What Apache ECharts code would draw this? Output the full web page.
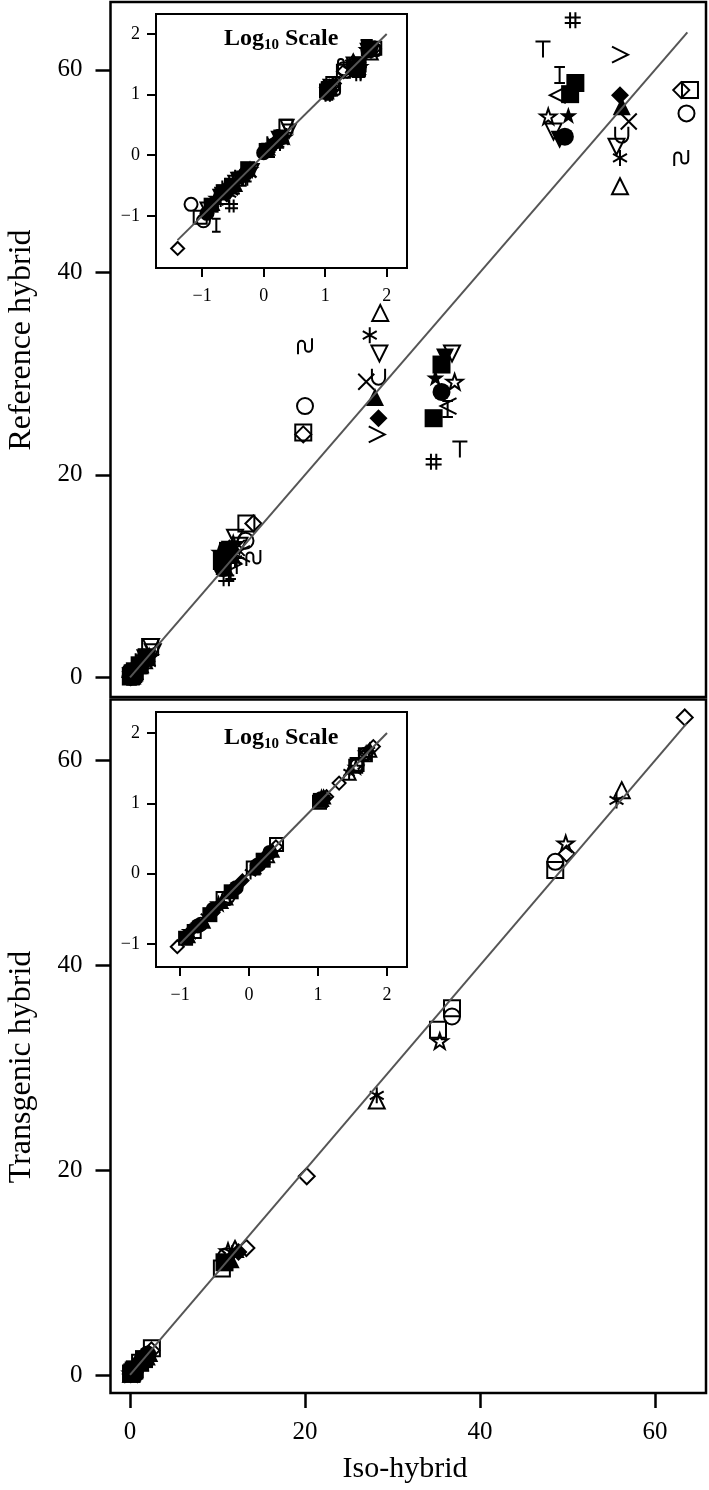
<!DOCTYPE html>
<html>
<head>
<meta charset="utf-8">
<script src="https://cdn.jsdelivr.net/npm/echarts@6/dist/echarts.min.js"></script>
<style>
  html, body { margin: 0; padding: 0; background: #fff; }
  #chart { width: 709px; height: 1490px; }
</style>
</head>
<body>
<div id="chart"></div>
<script>
// tick labels
const mainTicks = [0, 20, 40, 60];
const logTicks = [-1, 0, 1, 2];

// 1:1 reference lines, [from, to]
const lineTop = [0, 63.7];
const lineBottom = [0, 63.6];
const logLineTop = [-1.4, 2.0];
const logLineBottom = [-1.0, 2.0];

// top panel: [iso-hybrid, reference hybrid]
const openTri   = [[0.22, 0.2], [0.45, 0.5], [1.6, 1.7], [11.5, 12.3], [28.6, 36.0], [56.0, 48.5]];
const asterisk  = [[0.18, 0.17], [0.5, 0.46], [1.3, 1.4], [12.0, 11.6], [27.4, 33.8], [56.0, 51.3]];
const greater   = [[0.2, 0.23], [0.4, 0.38], [1.8, 1.6], [11.8, 11.2], [28.2, 24.0], [56.0, 61.5]];
const fDiamond  = [[0.25, 0.22], [0.55, 0.5], [1.5, 1.5], [11.2, 12.0], [28.4, 25.6], [56.0, 57.5]];
const fTri      = [[0.15, 0.16], [0.35, 0.33], [1.2, 1.3], [10.8, 11.0], [28.0, 27.7], [56.2, 56.4]];
const cross     = [[0.3, 0.28], [0.6, 0.55], [2.0, 1.9], [12.2, 12.8], [27.0, 29.2], [57.0, 54.9]];
const cup       = [[0.26, 0.3], [0.42, 0.45], [1.4, 1.6], [11.0, 11.8], [28.4, 29.7], [56.2, 53.6]];
const downTri   = [[0.12, 0.13], [0.38, 0.4], [2.4, 3.0], [12.5, 13.0], [28.5, 32.0], [55.6, 52.4]];
const hash      = [[0.3, 0.145], [0.5, 0.4], [1.7, 1.5], [11.0, 9.8], [34.7, 21.3], [50.6, 64.9]];
const tee       = [[0.2, 0.18], [0.45, 0.42], [1.5, 1.4], [12.2, 11.0], [37.7, 22.5], [47.2, 62.0]];
const ibeam     = [[0.17, 0.07], [0.35, 0.3], [1.3, 1.2], [11.5, 10.5], [36.3, 26.5], [49.1, 59.5]];
const fSquare   = [[0.22, 0.25], [0.55, 0.6], [1.9, 2.0], [10.5, 11.5], [35.6, 30.9], [50.9, 58.7]];
const fSquare2  = [[0.14, 0.15], [0.3, 0.32], [1.1, 1.2], [11.2, 12.5], [34.7, 25.6], [50.3, 57.6]];
const less      = [[0.28, 0.26], [0.48, 0.52], [1.6, 1.8], [12.8, 12.2], [36.4, 26.8], [48.9, 57.5]];
const fStar     = [[0.16, 0.2], [0.32, 0.36], [1.2, 1.5], [10.2, 12.4], [34.9, 29.6], [50.1, 55.5]];
const openStar  = [[0.24, 0.3], [0.6, 0.58], [2.2, 2.0], [11.8, 13.2], [37.1, 29.2], [47.8, 55.4]];
const downTri2  = [[0.34, 0.36], [0.65, 0.56], [2.6, 2.5], [12.0, 13.8], [36.8, 32.0], [48.4, 53.9]];
const fDownTri  = [[0.19, 0.21], [0.44, 0.4], [1.7, 1.9], [11.4, 12.6], [36.0, 31.6], [49.1, 53.1]];
const fCircle   = [[0.12, 0.11], [0.28, 0.3], [1.0, 1.1], [10.6, 10.8], [35.6, 28.2], [49.7, 53.4]];
const oDiamond  = [[0.04, 0.029], [0.25, 0.24], [1.5, 1.6], [14.1, 15.2], [19.8, 24.0], [63.0, 58.0]];
const oSquare   = [[0.093, 0.095], [0.4, 0.4], [2.3, 3.0], [13.3, 15.2], [19.8, 24.2], [64.0, 58.0]];
const oCircle   = [[0.066, 0.155], [0.105, 0.083], [1.1, 1.2], [13.2, 13.5], [20.0, 26.8], [63.6, 55.7]];
const tilde     = [[0.2, 0.22], [0.5, 0.5], [1.9, 2.2], [14.1, 11.8], [20.0, 32.7], [63.0, 51.3]];

// bottom panel: [iso-hybrid, transgenic hybrid]
const bDiamond  = [[0.091, 0.091], [0.3, 0.28], [2.45, 2.4], [13.3, 12.4], [20.2, 19.4], [49.9, 50.9], [63.4, 64.2]];
const bSquare   = [[0.16, 0.15], [0.42, 0.44], [1.15, 1.2], [2.5, 2.6], [10.5, 10.4], [35.2, 33.7], [36.8, 35.8], [48.6, 49.3]];
const bCircle   = [[0.2, 0.19], [0.5, 0.47], [1.4, 1.35], [11.0, 11.6], [36.8, 35.0], [48.6, 50.1]];
const bStar     = [[0.14, 0.15], [0.36, 0.37], [1.7, 1.75], [11.2, 12.1], [35.4, 32.6], [49.8, 51.9]];
const bTri      = [[0.13, 0.13], [0.46, 0.45], [1.85, 1.8], [12.0, 12.3], [28.2, 26.8], [56.2, 57.1]];
const bAsterisk = [[0.24, 0.24], [0.56, 0.57], [1.05, 1.02], [11.7, 11.9], [28.2, 27.3], [55.6, 56.1]];
const bFCircle  = [[0.18, 0.18], [0.3, 0.31], [0.65, 0.63], [1.3, 1.3], [2.0, 2.0]];
const bFSquare  = [[0.12, 0.12], [0.27, 0.26], [0.55, 0.55], [1.6, 1.55], [10.8, 11.0]];
const bFTri     = [[0.22, 0.21], [0.4, 0.4], [1.2, 1.25], [2.2, 2.15], [11.5, 11.3]];
const bFDiamond = [[0.15, 0.16], [0.34, 0.33], [0.8, 0.8], [1.9, 1.95], [12.4, 12.0]];

const SYMBOLS = {
  circle: 'circle', rect: 'rect', diamond: 'diamond', triangle: 'triangle',
  star: 'path://M10 1L12.2 7.6L19.1 7.6L13.5 11.8L15.6 18.5L10 14.4L4.4 18.5L6.5 11.8L0.9 7.6L7.8 7.6Z',
  asterisk: 'path://M10 0V20M1.3 5L18.7 15M1.3 15L18.7 5',
  cross: 'path://M2 2L18 18M18 2L2 18',
  hash: 'path://M7 1V19M13 1V19M1 7H19M1 13H19',
  tee: 'path://M2 2H18M10 2V19',
  ibeam: 'path://M4 1H16M10 1V19M4 19H16',
  gt: 'path://M3 3L17 10L3 17',
  lt: 'path://M17 3L3 10L17 17',
  tilde: 'path://M3 18V8A3.5 3.5 0 0 1 10 8V12A3.5 3.5 0 0 0 17 12V2',
  cup: 'path://M3 1V11A7 7 0 0 0 17 11V1'
};

// [data, symbol, filled, rotate]
const topSpecs = [
  [openTri, 'triangle', false, 0], [asterisk, 'asterisk', false, 0], [greater, 'gt', false, 0],
  [fDiamond, 'diamond', true, 0], [fTri, 'triangle', true, 0], [cross, 'cross', false, 0],
  [cup, 'cup', false, 0], [downTri, 'triangle', false, 180], [hash, 'hash', false, 0],
  [tee, 'tee', false, 0], [ibeam, 'ibeam', false, 0], [fSquare, 'rect', true, 0],
  [fSquare2, 'rect', true, 0], [less, 'lt', false, 0], [fStar, 'star', true, 0],
  [openStar, 'star', false, 0], [downTri2, 'triangle', false, 180], [fDownTri, 'triangle', true, 180],
  [fCircle, 'circle', true, 0], [oDiamond, 'diamond', false, 0], [oSquare, 'rect', false, 0],
  [oCircle, 'circle', false, 0], [tilde, 'tilde', false, 0]
];
const bottomSpecs = [
  [bFCircle, 'circle', true, 0], [bFSquare, 'rect', true, 0], [bFTri, 'triangle', true, 0],
  [bFDiamond, 'diamond', true, 0],
  [bDiamond, 'diamond', false, 0], [bSquare, 'rect', false, 0], [bCircle, 'circle', false, 0],
  [bStar, 'star', false, 0], [bTri, 'triangle', false, 0], [bAsterisk, 'asterisk', false, 0]
];

const FONT = '"Liberation Serif", "DejaVu Serif", serif';

function scatter(spec, axis, size, log) {
  const [data, sym, filled, rot] = spec;
  return {
    type: 'scatter', xAxisIndex: axis, yAxisIndex: axis, silent: true, z: 3,
    symbol: SYMBOLS[sym], symbolSize: filled ? size + 2 : size, symbolRotate: rot, symbolKeepAspect: true,
    data: log ? data.map(p => [Math.log10(p[0]), Math.log10(p[1])]) : data,
    itemStyle: filled
      ? { color: '#000', borderWidth: 0, opacity: 1 }
      : { color: 'rgba(0,0,0,0)', borderColor: '#000', borderWidth: 2, opacity: 1 }
  };
}

function refLine(ext, axis) {
  return {
    type: 'line', xAxisIndex: axis, yAxisIndex: axis, silent: true, z: 5,
    symbol: 'none', data: [[ext[0], ext[0]], [ext[1], ext[1]]],
    lineStyle: { color: '#555', width: 2 }
  };
}

const minus = v => (v < 0 ? '\u2212' + Math.abs(v) : String(v));

function axis(gi, min, max, ticks, o) {
  return {
    type: 'value', gridIndex: gi, min: min, max: max,
    axisLine: { show: false, onZero: false },
    splitLine: { show: false },
    axisTick: ticks ? { show: true, inside: false, length: o.tick, customValues: ticks,
      lineStyle: { color: '#000', width: o.tw } } : { show: false },
    axisLabel: ticks ? { show: true, customValues: ticks, formatter: minus, margin: o.margin,
      color: '#000', fontFamily: FONT, fontSize: o.fs } : { show: false }
  };
}

const mainOptY = { tick: 15, tw: 2.5, margin: 28, fs: 25 };
const mainOptX = { tick: 15, tw: 2.5, margin: 27, fs: 25 };
const logOpt = { tick: 9, tw: 2, margin: 16, fs: 18 };
const logOptX = { tick: 9, tw: 2, margin: 19, fs: 18 };

const gridBase = { show: true, borderColor: '#000', backgroundColor: '#fff', outerBoundsMode: 'none', containLabel: false };

const logTitle = {
  text: '{b|Log}{s|10}{b| Scale}', padding: 0,
  textStyle: { rich: {
    b: { fontFamily: FONT, fontWeight: 'bold', fontSize: 24, lineHeight: 28, color: '#000' },
    s: { fontFamily: FONT, fontWeight: 'bold', fontSize: 15, lineHeight: 15, verticalAlign: 'bottom', color: '#000' }
  } }
};

const series = [];
topSpecs.forEach(s => series.push(scatter(s, 0, 16, false)));
topSpecs.forEach(s => series.push(scatter(s, 1, 13, true)));
bottomSpecs.forEach(s => series.push(scatter(s, 2, 16, false)));
bottomSpecs.forEach(s => series.push(scatter(s, 3, 13, true)));
series.push(refLine(lineTop, 0), refLine(logLineTop, 1), refLine(lineBottom, 2), refLine(logLineBottom, 3));

const chart = echarts.init(document.getElementById('chart'), null, { renderer: 'canvas' });
chart.setOption({
  animation: false,
  backgroundColor: '#fff',
  title: [
    Object.assign({ left: 224, top: 25 }, logTitle),
    Object.assign({ left: 224, top: 724 }, logTitle)
  ],
  grid: [
    Object.assign({}, gridBase, { left: 110.5, top: 2, width: 595.5, height: 695, borderWidth: 2.5 }),
    Object.assign({}, gridBase, { left: 156, top: 14, width: 251, height: 254, borderWidth: 2, z: 1 }),
    Object.assign({}, gridBase, { left: 110.5, top: 699.5, width: 595.5, height: 693.5, borderWidth: 2.5 }),
    Object.assign({}, gridBase, { left: 156, top: 712, width: 251, height: 255, borderWidth: 2, z: 1 })
  ],
  xAxis: [
    axis(0, -2.23, 65.83, null),
    axis(1, -1.75, 2.33, logTicks, logOptX),
    axis(2, -2.23, 65.83, mainTicks, mainOptX),
    axis(3, -1.35, 2.29, logTicks, logOptX)
  ],
  yAxis: [
    axis(0, -1.93, 66.7, mainTicks, mainOptY),
    axis(1, -1.86, 2.33, logTicks, logOpt),
    axis(2, -1.76, 65.95, mainTicks, mainOptY),
    axis(3, -1.33, 2.30, logTicks, logOpt)
  ],
  graphic: [
    { type: 'text', x: 22, y: 340, rotation: Math.PI / 2,
      style: { text: 'Reference hybrid', fontFamily: FONT, fontSize: 32, fill: '#000', align: 'center', verticalAlign: 'middle' } },
    { type: 'text', x: 22, y: 1067, rotation: Math.PI / 2,
      style: { text: 'Transgenic hybrid', fontFamily: FONT, fontSize: 32, fill: '#000', align: 'center', verticalAlign: 'middle' } },
    { type: 'text', x: 405, y: 1469,
      style: { text: 'Iso-hybrid', fontFamily: FONT, fontSize: 30, fill: '#000', align: 'center', verticalAlign: 'middle' } }
  ],
  series: series
});
</script>
</body>
</html>
